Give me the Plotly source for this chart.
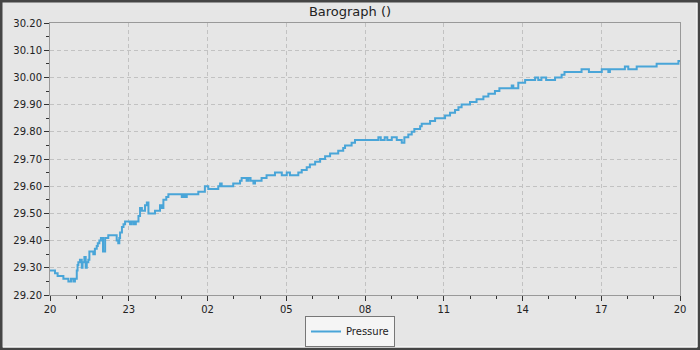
import pandas as pd
import plotly.graph_objects as go

# ---- data ----
start_time = "2024-01-14 20:00"
hours_after_start = [
    0.00, 0.19, 0.29, 0.51, 0.70, 0.80, 0.89, 0.95, 1.02, 1.05, 1.08, 1.14, 1.21, 1.24,
    1.31, 1.36, 1.40, 1.46, 1.50, 1.65, 1.71, 1.78, 1.82, 1.88, 1.94, 2.02, 2.10, 2.22,
    2.54, 2.60, 2.64, 2.67, 2.74, 2.80, 2.86, 3.05, 3.12, 3.20, 3.27, 3.37, 3.43, 3.50,
    3.62, 3.69, 3.75, 4.00, 4.19, 4.26, 4.32, 4.43, 4.51, 5.02, 5.08, 5.14, 5.21, 5.65,
    5.90, 6.03, 6.41, 6.48, 6.54, 6.98, 7.05, 7.24, 7.30, 7.49, 7.56, 7.64, 7.75, 7.81,
    8.06, 8.25, 8.57, 8.83, 9.02, 9.14, 9.46, 9.59, 9.78, 9.90, 10.10, 10.29, 10.48,
    10.67, 10.98, 11.17, 11.24, 11.49, 11.62, 12.51, 12.60, 12.75, 12.85, 13.02, 13.21,
    13.40, 13.50, 13.65, 13.78, 13.88, 14.10, 14.16, 14.48, 14.67, 15.05, 15.24, 15.43,
    15.56, 15.68, 16.00, 16.25, 16.51, 16.70, 16.95, 17.12, 17.59, 17.65, 17.84, 18.10,
    18.48, 18.60, 18.72, 18.90, 19.24, 19.49, 19.60, 20.25, 20.53, 21.02, 21.27, 21.33,
    21.90, 22.03, 22.35, 23.11, 23.94, 24.00,
]
pressure_inhg = [
    29.29, 29.28, 29.27, 29.26, 29.25, 29.26, 29.25, 29.26, 29.29, 29.31, 29.32, 29.33, 29.30, 29.32,
    29.34, 29.30, 29.32, 29.33, 29.36, 29.35, 29.37, 29.38, 29.39, 29.40, 29.41, 29.36, 29.41, 29.42,
    29.40, 29.39, 29.41, 29.43, 29.45, 29.46, 29.47, 29.46, 29.47, 29.46, 29.47, 29.49, 29.52, 29.51,
    29.53, 29.54, 29.50, 29.51, 29.53, 29.52, 29.55, 29.56, 29.57, 29.56, 29.57, 29.56, 29.57, 29.58,
    29.60, 29.59, 29.60, 29.61, 29.60, 29.61, 29.61, 29.62, 29.63, 29.62, 29.63, 29.62, 29.61, 29.62,
    29.63, 29.64, 29.65, 29.64, 29.65, 29.64, 29.65, 29.66, 29.67, 29.68, 29.69, 29.70, 29.71,
    29.72, 29.73, 29.74, 29.75, 29.76, 29.77, 29.78, 29.77, 29.78, 29.77, 29.78, 29.77,
    29.76, 29.78, 29.79, 29.80, 29.81, 29.82, 29.83, 29.84, 29.85, 29.86, 29.87, 29.88,
    29.89, 29.90, 29.91, 29.92, 29.93, 29.94, 29.95, 29.96, 29.97, 29.96, 29.98, 29.99,
    30.00, 29.99, 30.00, 29.99, 30.00, 30.01, 30.02, 30.03, 30.02, 30.03, 30.02, 30.03,
    30.04, 30.03, 30.04, 30.05, 30.06, 30.06,
]
y_tick_values = [29.2, 29.3, 29.4, 29.5, 29.6, 29.7, 29.8, 29.9, 30.0, 30.1, 30.2]

t0 = pd.Timestamp(start_time)
times = [t0 + pd.Timedelta(hours=h) for h in hours_after_start]
t_end = t0 + pd.Timedelta(hours=24)

W, H = 700, 350
ML, MR, MT, MB = 50, 20, 23, 55
PW, PH = W - ML - MR, H - MT - MB
BG = "#e6e6e6"
FONT = "DejaVu Sans"


def px_x(px):
    return (px - ML) / PW


def px_y(py):
    return (H - MB - py) / PH


fig = go.Figure()
fig.add_trace(go.Scatter(
    x=times, y=pressure_inhg, mode="lines", name="Pressure",
    line=dict(color="#49a5d8", width=2, shape="hv"),
))

grid = dict(showgrid=True, gridcolor="#c2c2c2", gridwidth=1, griddash="4px,3px")
fig.update_xaxes(
    type="date", range=[t0, t_end], tick0=t0, dtick=3 * 3600000, tickformat="%H",
    ticks="outside", ticklen=5, tickcolor="#333", tickwidth=1,
    showline=True, linecolor="#999", linewidth=1, mirror=True,
    zeroline=False, tickfont=dict(family=FONT, size=10, color="#222"),
    minor=dict(dtick=3600000, ticks="outside", ticklen=3, tickcolor="#333", showgrid=False),
    automargin=False,
    **grid,
)
fig.update_yaxes(
    range=[29.2, 30.2], tickvals=y_tick_values, tickformat=".2f",
    ticks="outside", ticklen=5, tickcolor="#333", tickwidth=1,
    showline=True, linecolor="#999", linewidth=1, mirror=True,
    zeroline=False, tickfont=dict(family=FONT, size=10, color="#222"),
    minor=dict(dtick=0.05, ticks="outside", ticklen=3, tickcolor="#333", showgrid=False),
    automargin=False,
    **grid,
)

# outer bevelled frame
shapes = [
    dict(type="rect", xref="paper", yref="paper",
         x0=px_x(1.25), x1=px_x(W - 1.25), y0=px_y(H - 1.25), y1=px_y(1.25),
         line=dict(color="#454545", width=2.5), fillcolor="rgba(0,0,0,0)", layer="above"),
    dict(type="line", xref="paper", yref="paper",
         x0=px_x(W - 3), x1=px_x(W - 3), y0=px_y(3), y1=px_y(H - 3),
         line=dict(color="#ffffff", width=1), layer="above"),
    dict(type="line", xref="paper", yref="paper",
         x0=px_x(3), x1=px_x(W - 3), y0=px_y(H - 3), y1=px_y(H - 3),
         line=dict(color="#ffffff", width=1), layer="above"),
]

fig.update_layout(
    width=W, height=H,
    margin=dict(l=ML, r=MR, t=MT, b=MB, pad=0, autoexpand=False),
    paper_bgcolor=BG, plot_bgcolor=BG,
    font=dict(family=FONT, size=10, color="#222"),
    title=dict(text="Barograph ()", x=0.5, xref="container", xanchor="center",
               y=1 - 11 / H, yref="container", yanchor="middle",
               font=dict(family=FONT, size=13, color="#222")),
    showlegend=True,
    legend=dict(orientation="h", x=0.5, xref="container", xanchor="center",
                y=3 / H, yref="container", yanchor="bottom",
                bgcolor="#f5f5f5", bordercolor="#777", borderwidth=1,
                font=dict(family=FONT, size=10, color="#222"), itemwidth=30,
                tracegroupgap=0),
    shapes=shapes,
)

fig.write_html("out.html")
